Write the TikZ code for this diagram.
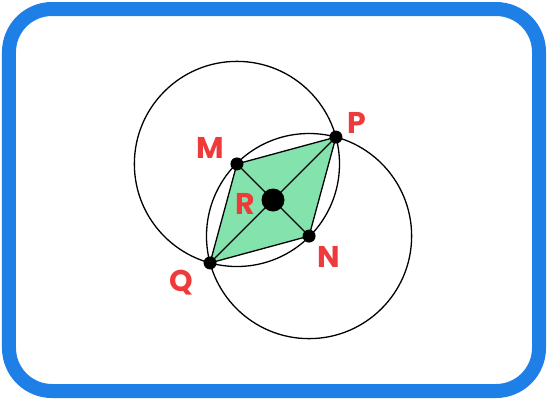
\documentclass[tikz,border=0pt]{standalone}
\usepackage{fontspec}
\setsansfont{Poppins}
\usetikzlibrary{positioning, through, calc}
\definecolor{frameblue}{RGB}{30,127,230}
\definecolor{kitegreen}{RGB}{132,226,172}
\definecolor{labelred}{RGB}{238,58,58}

\begin{document}
\begin{tikzpicture}[x=1pt, y=1pt,
  dot/.style={circle, fill=black, inner sep=0pt, minimum size=13pt},
  bigdot/.style={circle, fill=black, inner sep=0pt, minimum size=23pt},
  ring/.style={draw, line width=1.3pt},
  lbl/.style={font=\fontsize{30}{30}\selectfont\sffamily\bfseries, text=labelred}]
\useasboundingbox (-273,-200) rectangle (275,200);
\draw[frameblue, line width=14pt, rounded corners=43pt] (-264,-191) rectangle (266,191);

% points of the kite
\coordinate (R) at (0,0);
\coordinate (M) at (135:51);
\coordinate (N) at (-45:51);
\coordinate (P) at (45:89);
\coordinate (Q) at (225:89);

\filldraw[fill=kitegreen, line width=1.3pt] (M) -- (P) -- (N) -- (Q) -- cycle;
\draw[line width=1.2pt] (M) -- (N) (P) -- (Q);

% circles centred at M and N through P and Q
\node[ring, circle through=(P)] (cM) at (M) {};
\node[ring, circle through=(P)] (cN) at (N) {};

\node[dot] (dM) at (M) {};
\node[dot] (dN) at (N) {};
\node[dot] (dP) at (P) {};
\node[dot] (dQ) at (Q) {};
\node[bigdot] (dR) at (R) {};

\node[lbl] (lM) at ($(M)+(-27,16)$) {M};
\node[lbl] (lP) at ($(P)+(21,14)$) {P};
\node[lbl] (lR) at ($(R)+(-28,-4)$) {R};
\node[lbl] (lN) at ($(N)+(20,-21)$) {N};
\node[lbl] (lQ) at ($(Q)+(-29,-20)$) {Q};
\end{tikzpicture}
\end{document}
